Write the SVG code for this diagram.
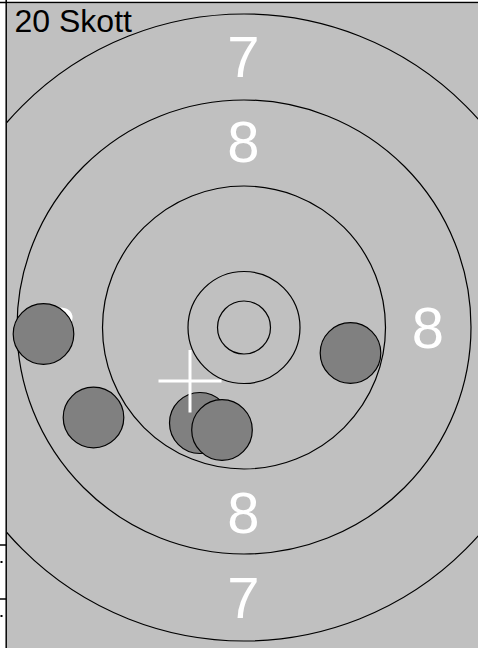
<svg xmlns="http://www.w3.org/2000/svg" width="478" height="648" viewBox="0 0 478 648">
<style>
.ring{fill:none;stroke:#000;stroke-width:1.2}
.num{font-family:"Liberation Sans",Arial,sans-serif;font-size:58px;fill:#fff;text-anchor:middle}
.shot{fill:#808080;stroke:#000;stroke-width:1.2}
.cross{stroke:#fff;stroke-width:3;fill:none}
.lbl{font-family:"Liberation Sans",Arial,sans-serif;font-size:32px;fill:#000}
</style>
<defs>
<clipPath id="area"><rect x="7" y="3.5" width="471" height="644.5"/></clipPath>
</defs>
<rect x="0" y="0" width="478" height="648" fill="#fff"/>
<rect x="7" y="3.5" width="471" height="644.5" fill="#c0c0c0"/>
<g id="frame" stroke="#000" stroke-width="1.5">
<line x1="0" y1="2.5" x2="478" y2="2.5"/>
<line x1="6.2" y1="0" x2="6.2" y2="648"/>
<line x1="0" y1="545" x2="6" y2="545"/>
<line x1="0" y1="599" x2="6" y2="599"/>
</g>
<rect x="0.5" y="561" width="2" height="2" fill="#000"/>
<rect x="0.5" y="615" width="2" height="2" fill="#000"/>
<g id="rings" clip-path="url(#area)">
<circle class="ring" cx="244" cy="327.5" r="313.5"/>
<circle class="ring" cx="244" cy="327" r="227"/>
<circle class="ring" cx="244" cy="327.5" r="141.5"/>
<circle class="ring" cx="244" cy="327.5" r="56"/>
<circle class="ring" cx="244" cy="327.5" r="26.5"/>
</g>
<g id="numbers">
<text class="num" x="243.5" y="77">7</text>
<text class="num" x="243.5" y="162">8</text>
<text class="num" x="243.5" y="533">8</text>
<text class="num" x="243.5" y="618">7</text>
<text class="num" x="428" y="348">8</text>
<text class="num" x="60" y="348">8</text>
</g>
<g id="shots">
<circle id="shot1" class="shot" cx="43.5" cy="334" r="30.3"/>
<circle id="shot2" class="shot" cx="93.5" cy="417.5" r="30.3"/>
<circle id="shot3" class="shot" cx="200" cy="423" r="30.5"/>
<circle id="shot4" class="shot" cx="222" cy="430" r="30.3"/>
<circle id="shot5" class="shot" cx="350.5" cy="353" r="30.3"/>
</g>
<g id="aim" class="cross">
<line x1="158.5" y1="381" x2="221.5" y2="381"/>
<line x1="190" y1="350" x2="190" y2="412.5"/>
</g>
<text id="title" class="lbl" x="14.5" y="31.5">20 Skott</text>
</svg>
